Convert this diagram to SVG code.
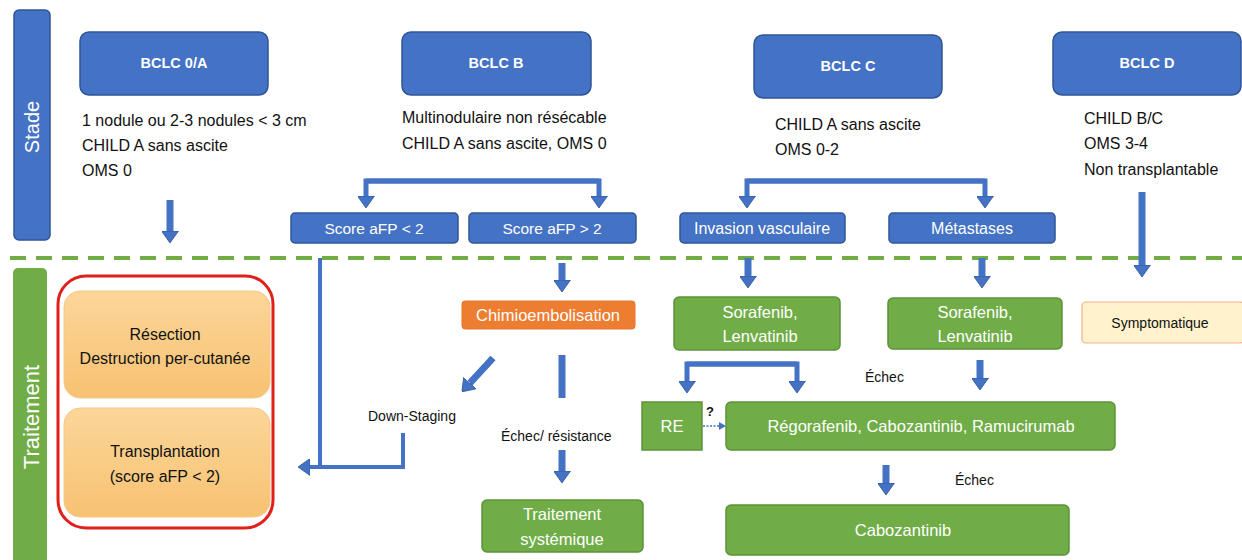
<svg xmlns="http://www.w3.org/2000/svg" width="1242" height="560" viewBox="0 0 1242 560">
<style>
text{font-family:"Liberation Sans",Arial,sans-serif}
.blue{fill:#4472c4;stroke:#2f5597;stroke-width:1.5}
.green{fill:#70ad47;stroke:#5b9237;stroke-width:1.5}
.wt{fill:#fff;font-size:16.5px;text-anchor:middle}
.ws{fill:#fff;font-size:15.5px;text-anchor:middle}
.wb{fill:#fff;font-size:14.5px;font-weight:bold;text-anchor:middle}
.bk{fill:#111;font-size:16px}
.bkc{fill:#111;font-size:16px;text-anchor:middle}
.lbl{fill:#111;font-size:14px}
.conn{fill:none;stroke:#4472c4}
</style>
<defs>
<marker id="ah" markerUnits="userSpaceOnUse" viewBox="0 0 12 17" refX="0" refY="8.5" markerWidth="12" markerHeight="17" orient="auto">
<path d="M0,0 L12,8.5 L0,17 z" fill="#4472c4" stroke="#2f5597" stroke-width="0.8"/>
</marker>
<marker id="ahs" markerUnits="userSpaceOnUse" viewBox="0 0 7 8" refX="0" refY="4" markerWidth="7" markerHeight="8" orient="auto">
<path d="M0,0 L7,4 L0,8 z" fill="#4472c4"/>
</marker>
<linearGradient id="og" x1="0" y1="0" x2="0" y2="1">
<stop offset="0" stop-color="#fcd699"/>
<stop offset="1" stop-color="#f7c272"/>
</linearGradient>
</defs>

<rect width="1242" height="560" fill="#fff"/>

<g id="band-stade">
<rect x="14" y="10" width="36" height="230" rx="5" class="blue"/>
<text transform="translate(39,127) rotate(-90)" style="fill:#fff;font-size:20px;text-anchor:middle">Stade</text>
</g>
<g id="band-traitement">
<rect x="13" y="268" width="34" height="300" rx="5" fill="#70ad47"/>
<text transform="translate(39,417) rotate(-90)" style="fill:#fff;font-size:22px;text-anchor:middle">Traitement</text>
</g>

<line id="separator" x1="10" y1="258" x2="1242" y2="258" stroke="#70ad47" stroke-width="4" stroke-dasharray="16 10"/>

<g id="bclc0a">
<rect x="80" y="32" width="188" height="63" rx="9" class="blue"/>
<text x="174" y="68" class="wb">BCLC 0/A</text>
<text x="82" y="126" class="bk">1 nodule ou 2-3 nodules &lt; 3 cm</text>
<text x="82" y="151" class="bk">CHILD A sans ascite</text>
<text x="82" y="176" class="bk">OMS 0</text>
</g>
<g id="bclcb">
<rect x="402" y="32" width="189" height="63" rx="9" class="blue"/>
<text x="496" y="68" class="wb">BCLC B</text>
<text x="402" y="123" class="bk">Multinodulaire non résécable</text>
<text x="402" y="149" class="bk">CHILD A sans ascite, OMS 0</text>
</g>
<g id="bclcc">
<rect x="754" y="35" width="188" height="63" rx="9" class="blue"/>
<text x="848" y="71" class="wb">BCLC C</text>
<text x="775" y="130" class="bk">CHILD A sans ascite</text>
<text x="775" y="155" class="bk">OMS 0-2</text>
</g>
<g id="bclcd">
<rect x="1053" y="32" width="188" height="63" rx="9" class="blue"/>
<text x="1147" y="68" class="wb">BCLC D</text>
<text x="1084" y="124" class="bk">CHILD B/C</text>
<text x="1084" y="149" class="bk">OMS 3-4</text>
<text x="1084" y="175" class="bk">Non transplantable</text>
</g>

<g id="score-lt2">
<rect x="291" y="213" width="167" height="30" rx="4" class="blue"/>
<text x="374" y="234" class="ws">Score aFP &lt; 2</text>
</g>
<g id="score-gt2">
<rect x="469" y="213" width="167" height="30" rx="4" class="blue"/>
<text x="552" y="234" class="ws">Score aFP &gt; 2</text>
</g>
<g id="invasion">
<rect x="680" y="213" width="165" height="30" rx="4" class="blue"/>
<text x="762" y="234" class="ws" style="font-size:16px">Invasion vasculaire</text>
</g>
<g id="metastases">
<rect x="889" y="213" width="166" height="30" rx="4" class="blue"/>
<text x="972" y="234" class="ws" style="font-size:16px">Métastases</text>
</g>

<g id="curatif">
<rect x="58" y="276" width="215" height="252" rx="28" fill="#fff" stroke="#e0201b" stroke-width="3"/>
<rect x="64" y="291" width="206" height="107" rx="16" fill="url(#og)" stroke="#f4c88a" stroke-width="1"/>
<text x="165" y="340" class="bkc">Résection</text>
<text x="165" y="364" class="bkc">Destruction per-cutanée</text>
<rect x="64" y="408" width="206" height="109" rx="16" fill="url(#og)" stroke="#f4c88a" stroke-width="1"/>
<text x="165" y="457" class="bkc">Transplantation</text>
<text x="165" y="482" class="bkc">(score aFP &lt; 2)</text>
</g>

<g id="chimio">
<rect x="462" y="301" width="173" height="28" rx="3" fill="#ed7d31" stroke="#e5772b"/>
<text x="548" y="321" class="wt">Chimioembolisation</text>
</g>
<g id="systemique">
<rect x="482" y="500" width="161" height="52" rx="5" class="green"/>
<text x="562" y="520" class="wt">Traitement</text>
<text x="562" y="545" class="wt">systémique</text>
</g>
<g id="sora1">
<rect x="674" y="297" width="166" height="53" rx="5" class="green"/>
<text x="760" y="318" class="wt">Sorafenib,</text>
<text x="760" y="342" class="wt">Lenvatinib</text>
</g>
<g id="sora2">
<rect x="888" y="298" width="174" height="51" rx="5" class="green"/>
<text x="975" y="318" class="wt">Sorafenib,</text>
<text x="975" y="342" class="wt">Lenvatinib</text>
</g>
<g id="symptomatique">
<rect x="1082" y="302" width="162" height="41" rx="4" fill="#fff2cc" stroke="#f4b183" stroke-width="1.2"/>
<text x="1160" y="328" style="fill:#111;font-size:14px;text-anchor:middle">Symptomatique</text>
</g>
<g id="re">
<rect x="642" y="402" width="60" height="48" class="green"/>
<text x="672" y="432" class="wt">RE</text>
</g>
<g id="regorafenib">
<rect x="726" y="402" width="389" height="48" rx="5" class="green"/>
<text x="921" y="432" class="wt">Régorafenib, Cabozantinib, Ramucirumab</text>
</g>
<g id="cabozantinib">
<rect x="726" y="505" width="343" height="50" rx="5" class="green"/>
<text x="903" y="536" class="wt">Cabozantinib</text>
</g>

<g id="connectors">
<path class="conn" stroke-width="7" d="M170,200 V231" marker-end="url(#ah)"/>
<path class="conn" stroke-width="5" d="M599,181 H366 V196" marker-end="url(#ah)"/>
<path class="conn" stroke-width="5" d="M366,181 H599 V196" marker-end="url(#ah)"/>
<path class="conn" stroke-width="5" d="M985,181 H747 V196" marker-end="url(#ah)"/>
<path class="conn" stroke-width="5" d="M747,181 H985 V196" marker-end="url(#ah)"/>
<path class="conn" stroke-width="4" d="M320,258 V467 H310" marker-end="url(#ah)"/>
<path class="conn" stroke-width="4" d="M403,433 V467 H320"/>
<path class="conn" stroke-width="7" d="M562,263 V280" marker-end="url(#ah)"/>
<path class="conn" stroke-width="7" d="M493,358 L470,383" marker-end="url(#ah)"/>
<path class="conn" stroke-width="7" d="M562,355 V398"/>
<path class="conn" stroke-width="7" d="M562,450 V471" marker-end="url(#ah)"/>
<path class="conn" stroke-width="7" d="M748,258 V276" marker-end="url(#ah)"/>
<path class="conn" stroke-width="7" d="M982,258 V276" marker-end="url(#ah)"/>
<path class="conn" stroke-width="5" d="M797,364 H687 V381" marker-end="url(#ah)"/>
<path class="conn" stroke-width="5" d="M687,364 H797 V381" marker-end="url(#ah)"/>
<path class="conn" stroke-width="7" d="M980,360 V378" marker-end="url(#ah)"/>
<path class="conn" stroke-width="7" d="M1142,192 V265" marker-end="url(#ah)"/>
<path class="conn" stroke-width="7" d="M886,465 V483" marker-end="url(#ah)"/>
<path class="conn" stroke-width="1.5" stroke-dasharray="2 1.5" d="M703,426 H719" marker-end="url(#ahs)"/>
<text x="368" y="421" class="lbl">Down-Staging</text>
<text x="501" y="441" class="lbl">Échec/ résistance</text>
<text x="865" y="382" class="lbl">Échec</text>
<text x="955" y="485" class="lbl">Échec</text>
<text x="706" y="416" style="fill:#111;font-size:13px;font-weight:bold">?</text>
</g>
</svg>
